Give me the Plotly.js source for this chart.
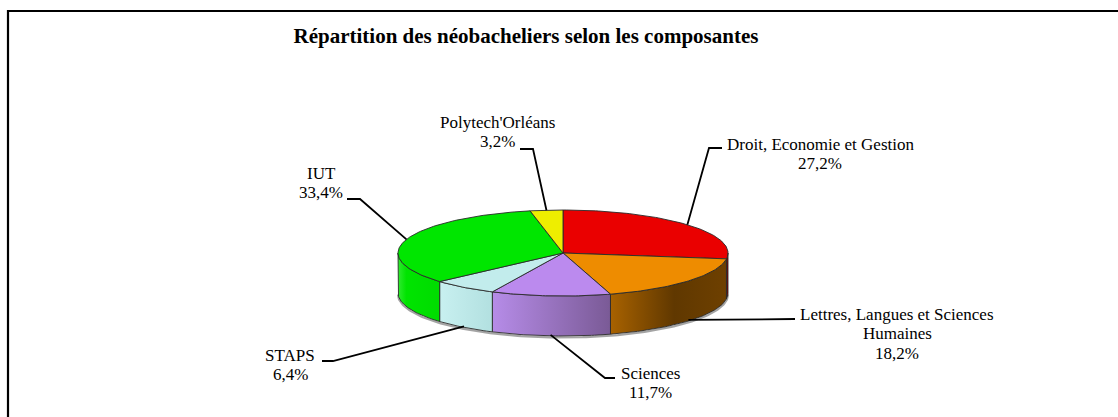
<!DOCTYPE html>
<html>
<head>
<meta charset="utf-8">
<script src="https://cdn.plot.ly/plotly-3.0.1.min.js"></script>
<style>
html,body{margin:0;padding:0;background:#fff;}
#chart{width:1118px;height:417px;}
</style>
</head>
<body>
<div id="chart"></div>
<script>
// ---- Data ----
const categories = ["Droit, Economie et Gestion", "Lettres, Langues et Sciences Humaines", "Sciences", "STAPS", "IUT", "Polytech'Orléans"];
const shares = [27.2, 18.2, 11.7, 6.4, 33.4, 3.2];
const pctLabels = ["27,2%", "18,2%", "11,7%", "6,4%", "33,4%", "3,2%"];
const chartTitle = "Répartition des néobacheliers selon les composantes";

// ---- Styles ----
const FONT = "Liberation Serif";
const topColors = ["#ea0000", "#ee8c00", "#bb8aee", "#c2ecec", "#00e600", "#eeee00"];
const wallScales = [
  [[0, "#a00000"], [1, "#700000"]],
  [[0, "#a86200"], [0.55, "#603800"], [1, "#6e4000"]],
  [[0, "#b68ce8"], [1, "#7a5a96"]],
  [[0, "#c8f0f0"], [1, "#b2e0e0"]],
  [[0, "#30ea30"], [0.2, "#00e400"], [1, "#00dc00"]],
  [[0, "#e0e000"], [1, "#c0c000"]]
];
// pie geometry in pixel coordinates
const G = {cx: 563, cy: 253, a: 165, b: 43, depth: 40};
// label placement
const place = [
  {tx: 820, ty: 144, ex: 709, ey: 148, sx: 722, sy: 148},
  {tx: 897, ty: 314, ex: 785, ey: 319, sx: 795, sy: 319},
  {tx: 650, ty: 373, ex: 605, ey: 378, sx: 615, sy: 378},
  {tx: 290, ty: 355, ex: 333, ey: 361, sx: 322, sy: 361},
  {tx: 321, ty: 173, ex: 360, ey: 199, sx: 347, sy: 199},
  {tx: 497, ty: 122, ex: 533, ey: 149, sx: 520, sy: 149}
];

function pt(theta, dy) {
  return [G.cx + G.a * Math.sin(theta), G.cy - G.b * Math.cos(theta) + (dy || 0)];
}
function arc(t1, t2, dy) {
  const n = Math.max(2, Math.ceil(Math.abs(t2 - t1) / 0.02));
  const out = [];
  for (let i = 0; i <= n; i++) out.push(pt(t1 + (t2 - t1) * i / n, dy));
  return out;
}

const total = shares.reduce((s, v) => s + v, 0);
const bounds = [];
let acc = 0;
shares.forEach(v => {
  const t1 = acc / total * 2 * Math.PI;
  acc += v;
  const t2 = acc / total * 2 * Math.PI;
  bounds.push([t1, t2]);
});

const traces = [];
const edge = {color: "#2a2a2a", width: 0.9};

// soft shadow under the pie
{
  const sh = arc(Math.PI / 2, 1.5 * Math.PI, G.depth + 1.5);
  traces.push({
    type: "scatter", mode: "lines",
    x: sh.map(p => p[0]), y: sh.map(p => p[1]),
    line: {color: "rgba(90,90,90,0.55)", width: 2.2},
    hoverinfo: "skip", showlegend: false
  });
}

// side walls (front half only)
bounds.forEach(([t1, t2], i) => {
  const lo = Math.max(t1, Math.PI / 2), hi = Math.min(t2, 1.5 * Math.PI);
  if (lo >= hi) return;
  const pts = arc(lo, hi, 0).concat(arc(hi, lo, G.depth));
  pts.push(pts[0]);
  traces.push({
    type: "scatter", mode: "lines", fill: "toself",
    x: pts.map(p => p[0]), y: pts.map(p => p[1]),
    line: edge,
    fillgradient: {type: "horizontal", colorscale: wallScales[i]},
    hoverinfo: "skip", showlegend: false
  });
});

// top faces
bounds.forEach(([t1, t2], i) => {
  const pts = [[G.cx, G.cy]].concat(arc(t1, t2, 0));
  pts.push([G.cx, G.cy]);
  traces.push({
    type: "scatter", mode: "lines", fill: "toself",
    x: pts.map(p => p[0]), y: pts.map(p => p[1]),
    line: edge, fillcolor: topColors[i],
    hoverinfo: "skip", showlegend: false
  });
});

// leader lines and labels
const annotations = [];
const fontSize = 17, lineGap = 19.5;
bounds.forEach(([t1, t2], i) => {
  const mid = (t1 + t2) / 2;
  const front = Math.cos(mid) < 0;
  const anchor = pt(mid, front ? G.depth - 1 : 0);
  const p = place[i];
  traces.push({
    type: "scatter", mode: "lines",
    x: [anchor[0], p.ex, p.sx], y: [anchor[1], p.ey, p.sy],
    line: {color: "#000", width: 1.8},
    hoverinfo: "skip", showlegend: false
  });
  let name = categories[i], lines = [];
  if (name.length > 30) {
    const cut = name.lastIndexOf(" ", 30);
    lines.push(name.slice(0, cut), name.slice(cut + 1));
  } else lines.push(name);
  lines.push(pctLabels[i]);
  lines.forEach((ln, k) => {
    annotations.push({
      x: p.tx, y: p.ty + k * lineGap, xref: "x", yref: "y",
      text: ln, showarrow: false, xanchor: "center", yanchor: "middle",
      font: {family: FONT, size: fontSize, color: "#000"}
    });
  });
});

const layout = {
  width: 1118, height: 417,
  margin: {l: 0, r: 0, t: 0, b: 0},
  paper_bgcolor: "#fff", plot_bgcolor: "#fff",
  font: {family: FONT},
  xaxis: {range: [0, 1118], visible: false, fixedrange: true},
  yaxis: {range: [417, 0], visible: false, fixedrange: true},
  title: {
    text: "<b>" + chartTitle + "</b>",
    x: 526 / 1118, xanchor: "center", xref: "paper",
    y: 1 - 36 / 417, yanchor: "middle", yref: "container",
    font: {family: FONT, size: 21, color: "#000"}
  },
  shapes: [{type: "rect", xref: "x", yref: "y", x0: 8, y0: 11, x1: 1130, y1: 430,
            line: {color: "#000", width: 2.2}, fillcolor: "rgba(0,0,0,0)"}],
  annotations: annotations,
  showlegend: false
};

Plotly.newPlot("chart", traces, layout, {staticPlot: true, displayModeBar: false});
</script>
</body>
</html>
